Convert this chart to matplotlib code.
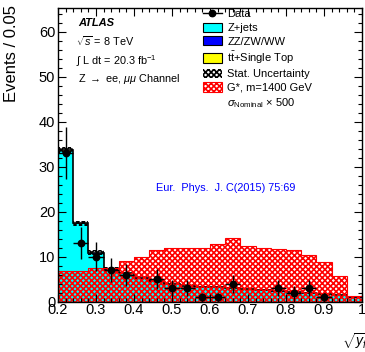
import numpy as np
import matplotlib
matplotlib.use("Agg")
import matplotlib.pyplot as plt
from matplotlib.lines import Line2D
from matplotlib.patches import Patch

plt.rcParams['font.family'] = ['Liberation Sans', 'DejaVu Sans']
plt.rcParams['mathtext.fontset'] = 'custom'
plt.rcParams['mathtext.rm'] = 'Liberation Sans'
plt.rcParams['mathtext.it'] = 'Liberation Sans:italic'
plt.rcParams['mathtext.bf'] = 'Liberation Sans:bold'
plt.rcParams['hatch.linewidth'] = 1.2

# Binning of the discriminant
edges = np.round(np.arange(0.20, 1.0001, 0.04), 2)
centers = 0.5 * (edges[:-1] + edges[1:])

# Backgrounds (stacked)
zjets = [33.5, 17.2, 10.7, 7.1, 6.1, 5.1, 4.4, 3.8, 3.4, 3.1,
         3.0, 2.8, 2.6, 2.4, 2.2, 2.0, 1.8, 1.5, 1.2, 0.9]
diboson = [0.1, 0.1, 0.1, 0.1, 0.1, 0.1, 0.1, 0.1, 0.1, 0.1,
           0.1, 0.1, 0.1, 0.1, 0.1, 0.1, 0.1, 0.1, 0.1, 0.05]
top = [0.1, 0.1, 0.1, 0.1, 0.1, 0.1, 0.1, 0.1, 0.1, 0.1,
       0.1, 0.1, 0.1, 0.1, 0.1, 0.1, 0.1, 0.1, 0.1, 0.05]
stat_unc = [0.8, 0.6, 0.5, 0.4, 0.4, 0.35, 0.3, 0.3, 0.3, 0.3,
            0.3, 0.3, 0.3, 0.3, 0.25, 0.25, 0.25, 0.2, 0.2, 0.2]

# Signal G*, m = 1400 GeV, scaled x500
signal = [6.8, 6.8, 7.4, 7.4, 9.1, 10.0, 11.5, 11.9, 12.0, 11.9,
          12.8, 14.2, 12.4, 11.9, 11.7, 11.5, 10.4, 8.8, 5.7, 1.3]

# Observed events
data = [33, 13, 10, 7, 6, 0, 5, 3, 3, 1,
        1, 4, 0, 0, 3, 2, 3, 1, 0, 0]

W, H = 365, 352
fig = plt.figure(figsize=(W / 100, H / 100), dpi=100)
ax = fig.add_axes([58 / W, 1 - 301.7 / H, 304 / W, 293.7 / H])

zj = np.array(zjets)
db = np.array(diboson)
tp = np.array(top)
s1 = zj
s2 = s1 + db
s3 = s2 + tp
unc = np.array(stat_unc)

ax.stairs(s1, edges, baseline=0, fill=True, facecolor='#00ffff', edgecolor='none')
ax.stairs(s2, edges, baseline=s1, fill=True, facecolor='#0000ff', edgecolor='none')
ax.stairs(s3, edges, baseline=s2, fill=True, facecolor='#ffff00', edgecolor='none')
ax.stairs(s3, edges, baseline=None, color='black', lw=1.2)
ax.stairs(s3 + unc, edges, baseline=s3 - unc, fill=True, facecolor='none',
          edgecolor='black', hatch='xxxxxx', lw=0)

# Signal overlay
ax.stairs(np.array(signal), edges, baseline=0, fill=True, facecolor='none',
          edgecolor='#ff0000', hatch='xxxxxx', lw=0)
ax.stairs(np.array(signal), edges, baseline=None, color='#ff0000', lw=0.8)

# Data points
d = np.array(data, dtype=float)
m = d > 0
ax.errorbar(centers[m], d[m], yerr=np.sqrt(d[m]), xerr=0.02, fmt='o',
            color='black', ms=4.6, elinewidth=1.0, capsize=0, zorder=5)

ax.set_xlim(0.2, 1.0)
ax.set_ylim(0, 65.3)
ax.set_xticks(np.arange(0.2, 1.0001, 0.1))
ax.set_xticklabels(['0.2', '0.3', '0.4', '0.5', '0.6', '0.7', '0.8', '0.9', '1'])
ax.set_yticks(np.arange(0, 61, 10))
ax.set_xticks(np.arange(0.2, 1.0001, 0.02), minor=True)
ax.set_yticks(np.arange(0, 65, 2), minor=True)
ax.tick_params(which='both', direction='in', top=True, right=True,
               labelsize=10.5, width=0.8)
ax.tick_params(which='major', length=6)
ax.tick_params(which='minor', length=3)
ax.tick_params(axis='x', pad=1)
ax.tick_params(axis='y', pad=2)
for sp in ax.spines.values():
    sp.set_linewidth(1.0)

fig.text(12 / W, 1 - 5 / H, 'Events / 0.05', rotation=90, ha='center',
         va='top', fontsize=12)
fig.text(342 / W, 1 / H, r'$\sqrt{y_{f}}$', ha='left', va='bottom', fontsize=10)

# Labels
t = ax.transAxes
def ax_xy(px, py):
    return ((px - 58) / 304, (301.7 - py) / 293.7)

ax.text(*ax_xy(78, 23), 'ATLAS', transform=t, fontsize=8, fontweight='bold',
        fontstyle='italic', va='center')
ax.text(*ax_xy(76, 41), r'$\sqrt{s}$ = 8 TeV', transform=t, fontsize=7.8, va='center')
ax.text(*ax_xy(76, 61), r'$\int$ L dt = 20.3 fb$^{-1}$', transform=t, fontsize=7.8, va='center')
ax.text(*ax_xy(78, 79), r'Z $\rightarrow$ ee, $\mu\mu$ Channel', transform=t,
        fontsize=7.8, va='center')
ax.text(*ax_xy(226, 188), 'Eur.  Phys.  J. C(2015) 75:69', transform=t,
        fontsize=7.8, va='center', ha='center', color='#0000ff')

handles = [
    Line2D([], [], color='black', marker='o', ms=4.6, lw=1.0),
    Patch(facecolor='#00ffff', edgecolor='black', lw=0.8),
    Patch(facecolor='#0000ff', edgecolor='black', lw=0.8),
    Patch(facecolor='#ffff00', edgecolor='black', lw=0.8),
    Patch(facecolor='white', edgecolor='black', hatch='xxxxxx', lw=0),
    Patch(facecolor='white', edgecolor='#ff0000', hatch='xxxxxx', lw=0.8),
    Patch(facecolor='none', edgecolor='none'),
]
labels = ['Data', 'Z+jets', 'ZZ/ZW/WW', r't$\bar{\mathrm{t}}$+Single Top',
          'Stat. Uncertainty', 'G*, m=1400 GeV',
          r'$\sigma_{\mathrm{Nominal}}$ × 500']
leg = ax.legend(handles, labels, loc='upper left',
                bbox_to_anchor=ax_xy(203, 9), frameon=False, fontsize=8,
                handlelength=1.7, handleheight=0.9, handletextpad=0.5,
                labelspacing=0.28, borderpad=0, borderaxespad=0)

fig.savefig('out.png', dpi=100)
